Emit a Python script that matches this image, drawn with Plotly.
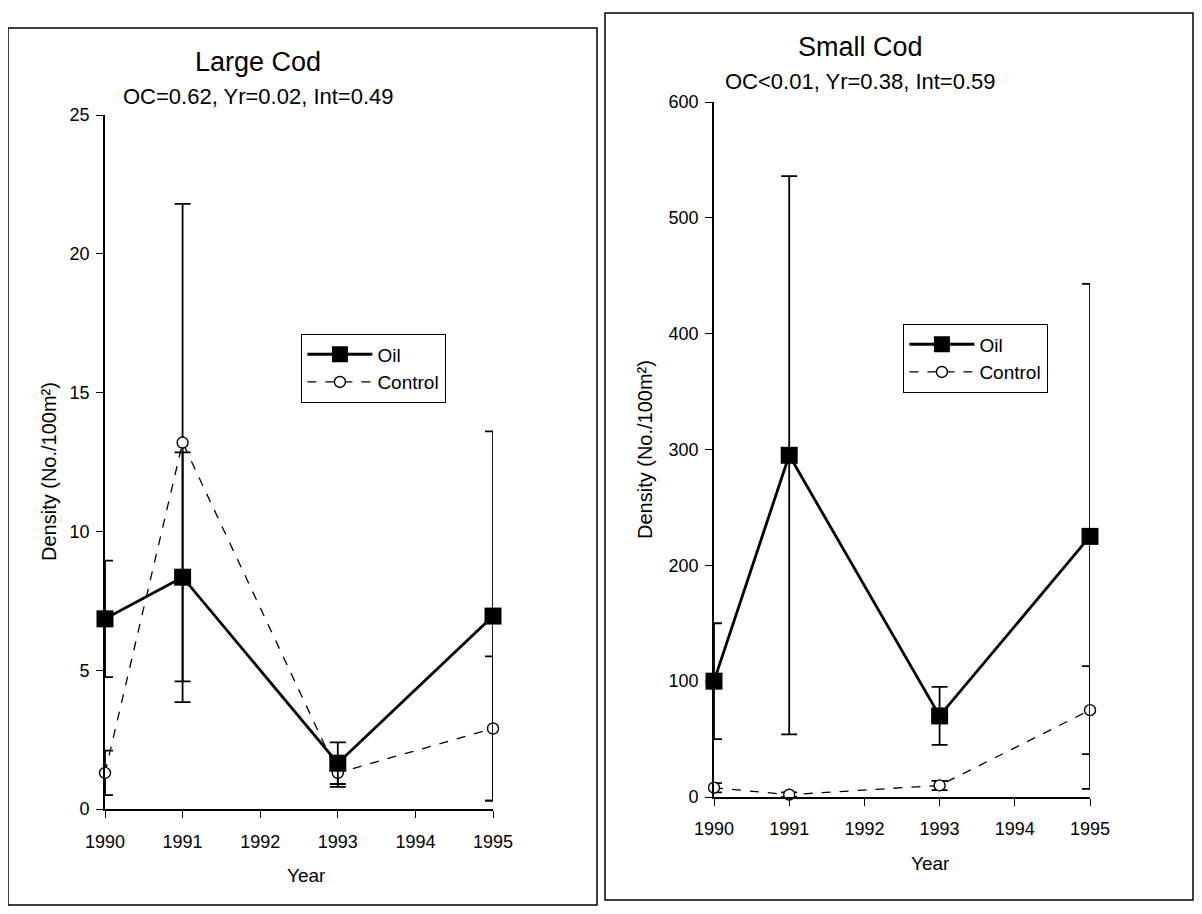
import plotly.graph_objects as go

years = [1990, 1991, 1993, 1995]

# Large Cod
large_oil = [6.85, 8.35, 1.65, 6.95]
large_oil_err = [2.1, 4.5, 0.75, 6.65]
large_ctrl = [1.3, 13.2, 1.3, 2.9]
large_ctrl_err = [0.8, 8.6, 0.5, 2.6]

# Small Cod
small_oil = [100, 295, 70, 225]
small_oil_err = [50, 241, 25, 218]
small_ctrl = [8, 2, 10, 75]
small_ctrl_err = [4, 2, 4, 38]

xticks = [1990, 1991, 1992, 1993, 1994, 1995]
left_yticks = [0, 5, 10, 15, 20, 25]
right_yticks = [0, 100, 200, 300, 400, 500, 600]

FONT = "Liberation Sans, Arial, sans-serif"
# page body has an 8px margin; size the figure so the page is exactly 1202x914
OFF = 8
W, H = 1202 - 2 * OFF, 914 - 2 * OFF


def px(x):
    return (x - OFF) / W


def py(y):
    return 1 - (y - OFF) / H


fig = go.Figure()


def add_pair(oil, oil_err, ctrl, ctrl_err, xa, ya, legend):
    fig.add_trace(go.Scatter(
        x=years, y=ctrl, name="Control", mode="lines+markers",
        line=dict(color="black", width=1.3, dash="dash"),
        marker=dict(symbol="circle", size=11, color="white",
                    line=dict(color="black", width=1.4)),
        error_y=dict(type="data", array=ctrl_err, visible=True,
                     color="black", thickness=1.8, width=8),
        xaxis=xa, yaxis=ya, legend=legend, cliponaxis=False,
        legendrank=2))
    fig.add_trace(go.Scatter(
        x=years, y=oil, name="Oil", mode="lines+markers",
        line=dict(color="black", width=2.8),
        marker=dict(symbol="square", size=17, color="black"),
        error_y=dict(type="data", array=oil_err, visible=True,
                     color="black", thickness=1.8, width=8),
        xaxis=xa, yaxis=ya, legend=legend, cliponaxis=False,
        legendrank=1))


add_pair(large_oil, large_oil_err, large_ctrl, large_ctrl_err, "x", "y", "legend")
add_pair(small_oil, small_oil_err, small_ctrl, small_ctrl_err, "x2", "y2", "legend2")

axis_common = dict(showline=True, linecolor="black", linewidth=1.6,
                   ticks="outside", ticklen=7, tickcolor="black", tickwidth=1.4,
                   showgrid=False, zeroline=False, automargin=False,
                   tickfont=dict(family=FONT, size=18, color="black"))

left_x = [px(105), px(493)]
left_y = [py(809), py(115)]
right_x = [px(714), px(1090)]
right_y = [py(797), py(102)]

legend_common = dict(xanchor="left", yanchor="top",
                     bordercolor="black", borderwidth=1.4, bgcolor="white",
                     font=dict(family=FONT, size=19, color="black"), itemwidth=65,
                     traceorder="normal", tracegroupgap=0)

fig.update_layout(
    width=W, height=H,
    paper_bgcolor="white", plot_bgcolor="white",
    margin=dict(l=0, r=0, t=0, b=0, pad=0, autoexpand=False),
    font=dict(family=FONT, color="black"),
    xaxis=dict(domain=left_x, range=[1990, 1995], tickvals=xticks, anchor="y",
               ticklabelstandoff=9, **axis_common),
    yaxis=dict(domain=left_y, range=[0, 25], tickvals=left_yticks, anchor="x",
               ticklabelstandoff=3, **axis_common),
    xaxis2=dict(domain=right_x, range=[1990, 1995], tickvals=xticks, anchor="y2",
                ticklabelstandoff=8, **axis_common),
    yaxis2=dict(domain=right_y, range=[0, 600], tickvals=right_yticks, anchor="x2",
                ticklabelstandoff=3, **axis_common),
    legend=dict(x=px(301), y=py(334), **legend_common),
    legend2=dict(x=px(903), y=py(324), **legend_common),
)

# panel frames
fig.add_shape(type="rect", xref="paper", yref="paper",
              x0=px(8), x1=px(597), y0=py(905), y1=py(28),
              line=dict(color="black", width=1.5))
fig.add_shape(type="rect", xref="paper", yref="paper",
              x0=px(605), x1=px(1193), y0=py(900), y1=py(13),
              line=dict(color="black", width=1.5))


def ann(text, x, y, size, angle=0):
    fig.add_annotation(text=text, x=px(x), y=py(y), xref="paper", yref="paper",
                       showarrow=False, textangle=angle,
                       font=dict(family=FONT, size=size, color="black"),
                       xanchor="center", yanchor="middle")


ann("Large Cod", 258, 62, 27)
ann("OC=0.62, Yr=0.02, Int=0.49", 258, 96, 22)
ann("Small Cod", 860, 47, 27)
ann("OC<0.01, Yr=0.38, Int=0.59", 860, 82, 22)
ann("Density (No./100m²)", 49, 472, 20, -90)
ann("Density (No./100m²)", 645, 450, 20, -90)
ann("Year", 306, 875, 19)
ann("Year", 930, 863, 19)

fig.write_html("out.html")
